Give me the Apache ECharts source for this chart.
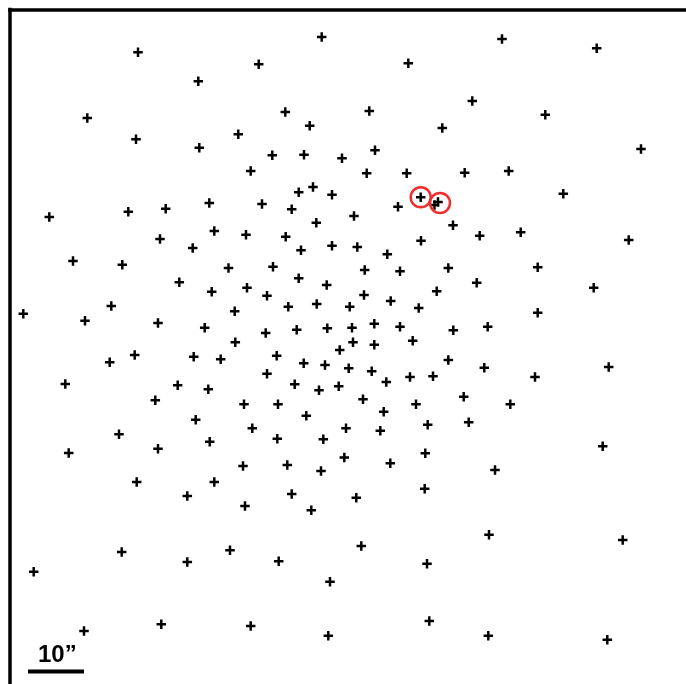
<!DOCTYPE html>
<html>
<head>
<meta charset="utf-8">
<script src="https://cdn.jsdelivr.net/npm/echarts@6/dist/echarts.min.js"></script>
<style>
html,body{margin:0;padding:0;background:#fff;}
#chart{width:686px;height:684px;}
</style>
</head>
<body>
<div id="chart"></div>
<script>
// Source positions (image frame units, x to the right, y downward)
const sourceX = [321.7,502,596.7,138,258.7,408.3,198.3,472.3,285.3,369.3,545.3,87.3,309.7,442.3,238.3,136,199.3,641,375,272.3,
304,342,250.7,366.7,406.7,464.7,508.7,313,298.7,563.3,332,420.7,438,434.5,398,262,209.3,165.7,128.3,291.7,
49.3,354,316.3,453,214.3,520.7,246,479.7,160,285.7,421,628.7,332,357.3,192.7,301,387.3,73,122.3,273,
228.5,364.7,400,448.3,537.7,298.7,179.3,476.7,326.7,247,593.7,211.7,267,436.7,364,390.7,316.7,111.3,288.3,349.7,
418.7,234.7,537.7,23.3,85,158,374.3,204.7,296.7,327.3,352,400,487.7,453.3,265.7,412.7,235.3,353,374.3,339.7,
134.7,193.7,220.7,276.7,448.3,109.7,303.7,325,348.7,608.7,371.7,484.3,267,410,433,535,65.3,386.3,294.7,177.7,
338.7,208.3,319,155.3,463.7,363,244,278,416,510.3,383.7,306.3,195.7,468.7,427.7,252.3,346,380.3,119,277.3,
323.3,209.7,602.7,158,68.7,425.3,344.3,390.3,243,287.3,321,495,136.7,214.3,424.7,291.7,187.3,356.3,245,311.3,
489,622.7,361.3,121.7,230,278.7,187.3,427,33.7,330,429.3,161.3,250.7,84,328.3,488.3,607.3];
const sourceY = [37,39,48.3,52.3,64.3,63.3,81.3,101,112,111,114.7,118,125.7,128,134.3,139.3,147.7,149,150.3,155.3,
154.7,158.3,171,173.3,173.3,172.7,171,187,192.3,193.7,194.7,197.3,202,205,206.7,204,203,208.7,211.7,209.3,
217,216,222.7,225.3,231,232.3,234.7,235.7,239,236.7,240.7,240,245.7,247,248,250.3,254.3,261,264.7,266.7,
268,270,271.3,268,267.3,278.3,282.3,282.7,285,287.7,287.7,291.7,295.7,291.3,295,301,304,306,306.7,306.7,
308,311.3,312.7,313.7,320.7,323,323.7,327.7,329.7,328.3,327.7,326.7,326.7,330.3,333,340.7,342.3,342.3,344.7,350,
355,356.7,359.3,355.7,360,362.3,363.3,365,368.3,367,371.3,367.7,373.7,377,376.3,377,384,382,384.3,385.3,
386.3,389.3,390.3,400.3,396.7,399.3,404.3,404.3,404.3,404.3,411.7,415.7,419.7,422.3,424.7,428.3,428.3,430.7,434.3,438.7,
439.3,441.7,446.3,448.7,453,453.3,457.5,463.3,466,465,471,470,482,482,488.7,494,496,497.7,506,510.3,
534.7,540,546,552,550.3,561.3,562,563.7,571.7,581.7,621,624.3,626,631,635.7,635.7,639.7];
// Circled (highlighted) sources
const markedX = [420.7, 440];
const markedY = [197.3, 203];
// Scale bar: 10 arcsec
const scaleLabel = '10\u201D';
const scaleBarX = [28, 84];
const scaleBarY = [671.5, 671.5];

const plusPath = 'path://M3.7,0H6.3V3.7H10V6.3H6.3V10H3.7V6.3H0V3.7H3.7Z';

const chart = echarts.init(document.getElementById('chart'), null, {renderer: 'canvas'});
const hidden = {axisTick: {show: false}, axisLabel: {show: false}, splitLine: {show: false}};
chart.setOption({
  animation: false,
  backgroundColor: '#fff',
  grid: {left: 10, top: 9.5, right: 0, bottom: 0},
  xAxis: Object.assign({
    type: 'value', min: 10, max: 686, position: 'top',
    axisLine: {show: true, onZero: false, lineStyle: {color: '#000', width: 3.5, cap: 'square'}}
  }, hidden),
  yAxis: Object.assign({
    type: 'value', min: 9.5, max: 684, inverse: true,
    axisLine: {show: true, onZero: false, lineStyle: {color: '#000', width: 3.5, cap: 'square'}}
  }, hidden),
  series: [
    {
      type: 'scatter', name: 'sources',
      symbol: plusPath, symbolSize: 9.5,
      itemStyle: {color: '#000', opacity: 1},
      data: sourceX.map((x, i) => [x, sourceY[i]])
    },
    {
      type: 'scatter', name: 'marked',
      symbol: 'circle', symbolSize: 20, z: 5,
      itemStyle: {color: 'rgba(0,0,0,0)', borderColor: '#ee2f2f', borderWidth: 2.5, opacity: 1},
      data: markedX.map((x, i) => [x, markedY[i]])
    },
    {
      type: 'line', name: 'scale', symbol: 'none', silent: true,
      lineStyle: {color: '#000', width: 4},
      data: scaleBarX.map((x, i) => [x, scaleBarY[i]])
    }
  ],
  graphic: [{
    type: 'text', left: 38, top: 643, z: 10,
    style: {text: scaleLabel, fill: '#000', font: 'bold 24px "Liberation Sans", Arial, sans-serif'}
  }]
});
</script>
</body>
</html>
